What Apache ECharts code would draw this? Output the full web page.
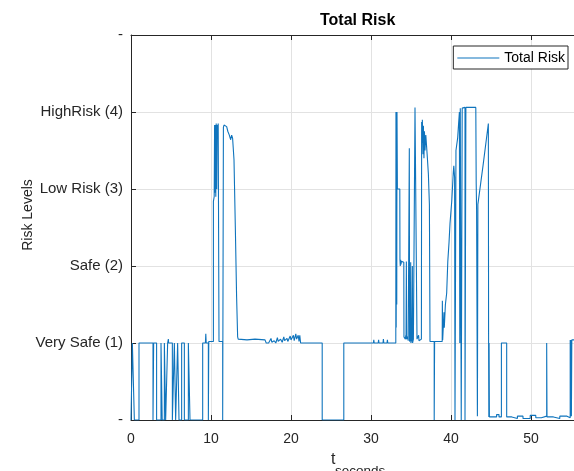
<!DOCTYPE html>
<html>
<head>
<meta charset="utf-8">
<script src="https://cdn.jsdelivr.net/npm/echarts@6/dist/echarts.min.js"></script>
<style>
html,body{margin:0;padding:0;background:#fff;}
#chart{width:574px;height:471px;}
</style>
</head>
<body>
<div id="chart"></div>
<script>
// ---- Data (t in seconds, risk level) ----
const xTicks = [0, 10, 20, 30, 40, 50];
const yTickLabels = ['-', 'Very Safe (1)', 'Safe (2)', 'Low Risk (3)', 'HighRisk (4)', '-'];
const seriesName = 'Total Risk';
const xLabelMain = 't';
const xLabelSub = 'seconds';

const earlySegment = [
  [0,0],[0.17,0],[0.17,1],[0.42,1],[0.42,0],[1.0,0],[1.0,1],[2.75,1],[2.75,0],[2.83,0],
  [2.83,1],[3.2,1],[3.2,0],[3.75,0],[3.75,1],[3.9,1],[3.9,0],[4.17,0],[4.17,1],[4.33,1],
  [4.33,0],[4.58,0],[4.58,1],[4.65,1],[4.67,1.05],[4.7,1],[5.17,1],[5.17,0],[5.42,0],[5.42,1],
  [5.58,1],[5.58,0],[5.83,0],[5.83,1],[6.0,1],[6.0,0],[6.33,0],[6.33,1],[6.67,1],[6.67,0],
  [7.17,0],[7.17,1],[7.375,1],[7.375,0],[8.96,0],[8.96,1]
];
const firstPeak = [
  [9.3,1],[9.35,1.12],[9.4,1.0],[9.67,1.0],[9.67,0],[9.72,0],[9.72,1.02],[10.3,1.02],
  [10.3,2.84],[10.4,2.9],[10.45,3.83],[10.5,2.95],[10.55,3.83],[10.6,2.9],[10.65,3.85],
  [10.72,3.0],[10.78,3.83],[10.85,3.8],[10.9,3.85],[11.0,3.83],[11.0,1.02],[11.46,1.02],
  [11.46,0],[11.55,0],[11.55,3.8],[11.625,3.83],[11.8,3.82],[11.96,3.81],[12.1,3.75],
  [12.29,3.7],[12.46,3.64],[12.58,3.7],[12.7,3.66],[12.875,3.38],[13.04,2.51],[13.2,1.6],
  [13.33,1.08],[13.4,1.05]
];
const calmSegment = [
  [14.5,1.04],[15.5,1.05],[16.75,1.04],[16.9,1.0],[17.1,1.02],[17.2,1.0],[17.5,1.06],
  [17.6,1.01],[17.9,1.03],[18.1,1.0],[18.3,1.07],[18.4,1.02],[18.7,1.05],[18.9,1.01],
  [19.1,1.08],[19.2,1.03],[19.5,1.06],[19.6,1.02],[19.9,1.09],[20.0,1.04],[20.3,1.1],
  [20.4,1.03],[20.6,1.12],[20.7,1.05],[20.9,1.1],[21.0,1.02],[21.1,1.1],[21.2,1.0],
  [21.3,1.0],[23.9,1.0],[23.9,0],[26.6,0],[26.6,1.0],[30.3,1.0],[30.35,1.04],[30.4,1.0],
  [30.9,1.0],[30.95,1.04],[31.0,1.0],[31.5,1.0],[31.55,1.05],[31.6,1.0],[32.0,1.0],
  [32.05,1.04],[32.1,1.0],[33.1,1.0]
];
const secondPeak = [
  [33.12,4.0],[33.15,1.2],[33.18,4.0],[33.22,1.5],[33.25,4.0],[33.3,4.0],[33.3,3.0],
  [33.6,3.0],[33.62,2.08],[33.66,2.0],[33.7,2.08],[33.75,2.02],[33.8,2.06],[34.1,2.05],
  [34.12,1.08],[34.3,1.05],[34.35,1.1],[34.38,1.05],[34.42,2.06],[34.46,1.05],[34.6,1.08],
  [34.65,1.03],[34.75,1.03],[34.79,3.53],[34.82,1.02],[34.92,1.05],[34.96,2.05],[34.99,1.0],
  [35.1,1.05],[35.17,2.0],[35.2,1.0],[35.3,1.05],[35.45,1.05],[35.5,4.06],[35.71,4.06],
  [35.75,1.05],[35.9,1.05],[35.95,1.1],[36.0,1.03],[36.3,1.05],[36.33,3.87],[36.38,3.6],
  [36.42,3.9],[36.5,3.45],[36.55,3.82],[36.62,3.4],[36.68,3.75],[36.75,3.5],[36.85,3.7],
  [36.95,3.55],[37.05,3.4],[37.17,3.2],[37.3,2.8],[37.375,1.02],[37.9,1.02],[37.9,0],
  [37.95,0],[37.95,1.02],[38.9,1.02]
];
const thirdPeak = [
  [38.92,1.55],[38.96,1.04],[39.1,1.04],[39.12,1.4],[39.16,1.2],[39.3,1.5],[39.46,1.65],
  [39.6,2.06],[39.75,2.3],[39.875,2.55],[40.1,2.85],[40.29,3.22],[40.35,3.3],[40.45,3.15],
  [40.5,3.15],[40.5,0],[40.6,0],[40.62,3.5],[40.83,3.66],[40.95,3.85],[41.05,4.0],[41.1,4.02],
  [41.1,1.0],[41.14,1.0],[41.16,4.05],[41.25,4.05],[41.28,0],[41.38,0],[41.4,4.05],
  [41.75,4.06],[41.75,0],[41.82,0],[41.86,4.06],[43.1,4.06],[43.15,3.07],[43.2,2.73],
  [43.28,2.73],[43.3,0.05],[43.34,0.05],[43.36,2.8],[44.0,3.3],[44.67,3.85],[44.7,1.0],
  [44.73,0.04],[44.76,1.0],[44.8,0.04]
];
const tailSegment = [
  [45.7,0.04],[45.7,0.07],[46.0,0.07],[46.0,0.04],[46.3,0.04],[46.3,1.0],[46.96,1.0],
  [46.96,0.04],[47.6,0.04],[47.6,0.02],[48.3,0.02],[48.3,0.05],[49.0,0.05],[49.0,0.02],
  [49.9,0.02],[49.9,0.06],[50.6,0.06],[50.6,0.03],[51.3,0.03],[51.3,0.05],[51.96,0.05],
  [51.96,1.0],[52.0,1.0],[52.0,0.04],[52.8,0.04],[52.8,0.02],[53.6,0.02],[53.6,0.05],
  [54.5,0.05],[54.5,0.03],[54.9,0.03],[54.9,1.04],[54.95,0.05],[55.0,1.04],[55.05,0.05],
  [55.1,1.04],[55.4,1.04]
];

const totalRisk = [].concat(earlySegment, firstPeak, calmSegment, secondPeak, thirdPeak, tailSegment);

const FONT = "'Liberation Sans', Arial, Helvetica, sans-serif";
const AX = '#262626';
const GRID = '#e2e2e2';
const LINE = '#0f74bd';

const chart = echarts.init(document.getElementById('chart'), null, {renderer: 'canvas'});
chart.setOption({
  animation: false,
  backgroundColor: '#fff',
  textStyle: {fontFamily: FONT},
  title: {
    text: 'Total Risk',
    left: 320, top: 13, padding: 0,
    textStyle: {fontSize: 16, fontWeight: 'bold', color: '#000', fontFamily: FONT}
  },
  legend: {
    data: [{name: seriesName, icon: 'rect'}],
    right: 6, top: 46,
    padding: [5, 3, 4, 4],
    itemWidth: 42, itemHeight: 1, itemGap: 4,
    itemStyle: {color: LINE},
    borderColor: AX, borderWidth: 1, backgroundColor: '#fff',
    textStyle: {fontSize: 14, color: '#000', fontFamily: FONT, lineHeight: 13, padding: [0,0,0,0]}
  },
  graphic: [
    {type: 'text', left: 331, top: 452, silent: true,
     style: {text: xLabelMain, font: '16px ' + FONT, fill: AX}},
    {type: 'text', left: 335, top: 464, silent: true,
     style: {text: xLabelSub, font: '13.5px ' + FONT, fill: AX}}
  ],
  grid: {left: 131, right: 0, top: 35, bottom: 51, containLabel: false, outerBoundsMode: 'none'},
  xAxis: [{
    type: 'value', min: 0, max: 55.375, interval: 10, position: 'bottom',
    axisLine: {show: true, lineStyle: {color: AX, width: 1}},
    axisTick: {show: true, inside: true, length: 5, lineStyle: {color: AX}},
    axisLabel: {
      fontSize: 14, color: AX, margin: 12, fontFamily: FONT,
      formatter: v => (xTicks.indexOf(v) >= 0 ? String(v) : '')
    },
    splitLine: {show: true, lineStyle: {color: GRID, width: 1}}
  }, {
    type: 'value', min: 0, max: 55.375, interval: 10, position: 'top',
    axisLine: {show: true, lineStyle: {color: AX, width: 1}},
    axisTick: {show: true, inside: true, length: 5, lineStyle: {color: AX}},
    axisLabel: {show: false},
    splitLine: {show: false}
  }],
  yAxis: {
    type: 'value', min: 0, max: 5, interval: 1,
    name: 'Risk Levels', nameLocation: 'middle', nameRotate: 90, nameGap: 96, nameMoveOverlap: false,
    nameTextStyle: {fontSize: 14, color: AX, fontFamily: FONT, padding: [0, 0, 0, 25]},
    axisLine: {show: true, lineStyle: {color: AX, width: 1}},
    axisTick: {show: true, inside: true, length: 5, lineStyle: {color: AX}},
    axisLabel: {
      fontSize: 15, color: AX, margin: 8, fontFamily: FONT,
      formatter: v => yTickLabels[Math.round(v)] || ''
    },
    splitLine: {show: true, lineStyle: {color: GRID, width: 1}}
  },
  series: [{
    name: seriesName,
    type: 'line',
    data: totalRisk,
    symbol: 'none',
    showSymbol: false,
    clip: true,
    lineStyle: {color: LINE, width: 1.1},
    itemStyle: {color: LINE}
  }]
});
</script>
</body>
</html>
